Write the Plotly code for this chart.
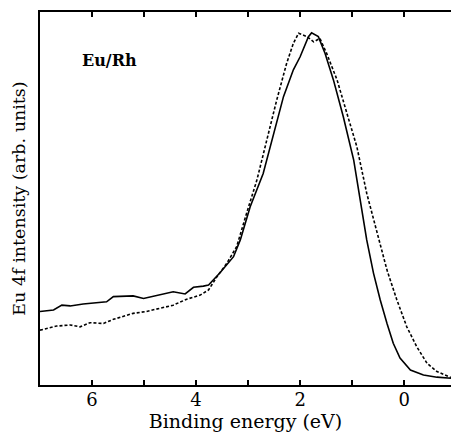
import plotly.graph_objects as go

# Solid curve (binding energy eV, intensity arb.)
solid_E = [7.0, 6.74, 6.58, 6.42, 6.17, 5.85, 5.72, 5.59, 5.40, 5.21, 5.01, 4.76, 4.44, 4.21, 4.05, 3.86,
           3.76, 3.54, 3.28, 3.15, 2.96, 2.71, 2.51, 2.32, 2.13, 2.0, 1.84, 1.78, 1.65, 1.52, 1.36, 1.17,
           0.97, 0.85, 0.72, 0.59, 0.46, 0.33, 0.21, 0.08, -0.12, -0.37, -0.63, -0.9]
solid_I = [0.197, 0.201, 0.214, 0.212, 0.217, 0.221, 0.223, 0.237, 0.237, 0.239, 0.232, 0.239, 0.250, 0.244,
           0.262, 0.265, 0.268, 0.301, 0.344, 0.389, 0.478, 0.567, 0.675, 0.773, 0.845, 0.880, 0.934, 0.944,
           0.934, 0.889, 0.818, 0.719, 0.603, 0.496, 0.389, 0.300, 0.228, 0.165, 0.112, 0.072, 0.040, 0.027,
           0.021, 0.018]

# Dashed curve
dashed_E = [7.0, 6.68, 6.42, 6.23, 6.04, 5.78, 5.59, 5.40, 5.21, 4.96, 4.69, 4.44, 4.18, 3.92, 3.76, 3.60,
            3.41, 3.22, 3.03, 2.83, 2.64, 2.45, 2.26, 2.13, 2.03, 1.87, 1.74, 1.62, 1.49, 1.29, 1.10, 0.91,
            0.72, 0.52, 0.33, 0.14, -0.05, -0.24, -0.44, -0.63, -0.82, -0.9]
dashed_I = [0.147, 0.158, 0.161, 0.156, 0.167, 0.165, 0.176, 0.183, 0.192, 0.197, 0.206, 0.214, 0.230, 0.241,
            0.255, 0.290, 0.326, 0.371, 0.460, 0.550, 0.657, 0.764, 0.862, 0.916, 0.943, 0.934, 0.920, 0.929,
            0.889, 0.818, 0.728, 0.639, 0.514, 0.407, 0.308, 0.228, 0.156, 0.103, 0.058, 0.036, 0.024, 0.020]

x_ticks = [6, 4, 2, 0]
x_tick_labels = ["6", "4", "2", "0"]

font = "DejaVu Serif"

fig = go.Figure()
fig.add_trace(go.Scatter(x=solid_E, y=solid_I, mode="lines",
                         line=dict(color="black", width=1.6), showlegend=False))
fig.add_trace(go.Scatter(x=dashed_E, y=dashed_I, mode="lines",
                         line=dict(color="black", width=1.6, dash="3px,2px"), showlegend=False))

fig.add_annotation(x=0.097, y=0.871, xref="paper", yref="paper", text="<b>Eu/Rh</b>", showarrow=False,
                   xanchor="left", yanchor="middle",
                   font=dict(family=font, size=16, color="black"))

fig.update_layout(
    width=451, height=437,
    margin=dict(l=40, r=0, t=12, b=52),
    paper_bgcolor="white", plot_bgcolor="white",
    font=dict(family=font, color="black"),
    xaxis=dict(range=[7.0, -0.9], tickvals=x_ticks, ticktext=x_tick_labels,
               ticks="inside", ticklen=5, tickwidth=1.5, tickcolor="black",
               showline=True, linecolor="black", linewidth=2, mirror="ticks",
               showgrid=False, zeroline=False, ticklabelstandoff=-3,
               tickfont=dict(family=font, size=18),
               minor=dict(tickvals=[5, 3, 1], ticks="inside", ticklen=5, tickwidth=1.5, tickcolor="black"),
               title=dict(text="Binding energy (eV)", font=dict(family=font, size=19), standoff=0)),
    yaxis=dict(range=[0, 1], showticklabels=False, ticks="",
               showline=True, linecolor="black", linewidth=2,
               showgrid=False, zeroline=False,
               title=dict(text="Eu 4f intensity (arb. units)", font=dict(family=font, size=17.5), standoff=8)),
)

fig.write_html("out.html")
